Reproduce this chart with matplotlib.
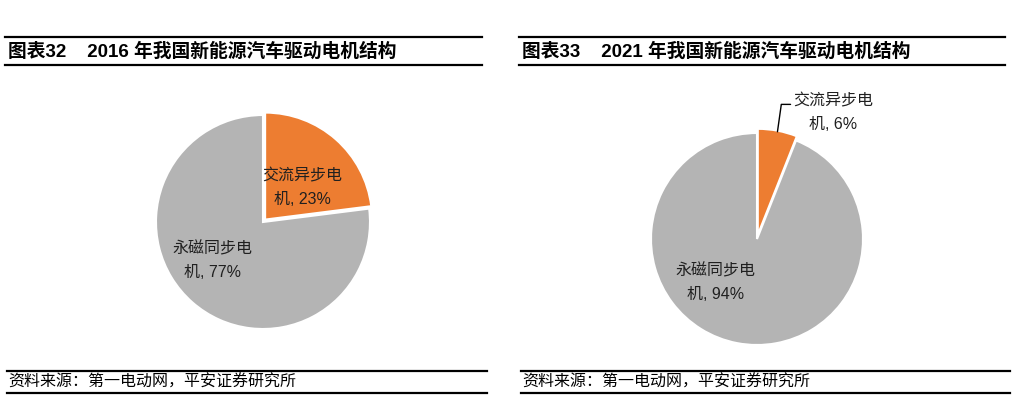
import numpy as np
import matplotlib
matplotlib.use("Agg")
import matplotlib.pyplot as plt
from matplotlib.lines import Line2D

plt.rcParams['font.family'] = ['Liberation Sans', 'Noto Sans CJK SC', 'DejaVu Sans']

labels = ['交流异步电\n机', '永磁同步电\n机']
share_2016 = [23, 77]
share_2021 = [6, 94]
colors = ['#ED7D31', '#B4B4B4']

titles = ['图表32    2016 年我国新能源汽车驱动电机结构',
          '图表33    2021 年我国新能源汽车驱动电机结构']
source = '资料来源：第一电动网，平安证券研究所'

W, H = 1025, 404
fig = plt.figure(figsize=(W / 100, H / 100), dpi=100)


def px_axes(cx, cy, r, span=1.3):
    side = 2 * span * r
    ax = fig.add_axes([(cx - side / 2) / W, (H - cy - side / 2) / H, side / W, side / H])
    return ax


def fix_limits(ax, span):
    ax.set_xlim(-span, span)
    ax.set_ylim(-span, span)
    ax.axis('off')


def hline(x0, x1, y, lw=1.6):
    fig.add_artist(Line2D([x0 / W, x1 / W], [1 - y / H, 1 - y / H], color='black', lw=lw))


# frame lines and titles
for x0, x1, title in [(5, 482, titles[0]), (519, 1005, titles[1])]:
    hline(x0, x1, 37)
    hline(x0, x1, 65)
    hline(x0 + 2, x1 + 5, 371)
    hline(x0 + 2, x1 + 5, 393)
    fig.text((x0 + 3) / W, 1 - 52 / H, title, fontsize=13.5, fontweight='bold', va='center', ha='left')
    fig.text((x0 + 3) / W, 1 - 382 / H, source, fontsize=11.5, va='center', ha='left')

# 2016 pie
ax1 = px_axes(263, 222, 107)
ax1.pie(share_2016, colors=colors, startangle=90, counterclock=False, explode=[0.03, 0],
        wedgeprops=dict(edgecolor='white', linewidth=1.5))
fix_limits(ax1, 1.3)
ax1.text(0.37, 0.32, f'{labels[0]}, {share_2016[0]}%', ha='center', va='center',
         fontsize=11.5, linespacing=1.7, color='#202020')
ax1.text(-0.47, -0.36, f'{labels[1]}, {share_2016[1]}%', ha='center', va='center',
         fontsize=11.5, linespacing=1.7, color='#202020')

# 2021 pie
ax2 = px_axes(757, 239, 106, span=1.45)
wedges, _ = ax2.pie(share_2021, colors=colors, startangle=90, counterclock=False, explode=[0.04, 0],
                    wedgeprops=dict(edgecolor='white', linewidth=1.5))
fix_limits(ax2, 1.45)
mid = np.deg2rad((wedges[0].theta1 + wedges[0].theta2) / 2)
ax2.annotate(f'{labels[0]}, {share_2021[0]}%', xy=(1.03 * np.cos(mid), 1.03 * np.sin(mid)),
             xytext=(0.72, 1.19), ha='center', va='center', fontsize=11.5, linespacing=1.7,
             color='#202020',
             arrowprops=dict(arrowstyle='-', color='black', lw=1, relpos=(0, 0.72),
                             shrinkA=0, shrinkB=0,
                             connectionstyle='angle,angleA=0,angleB=82,rad=0'))
ax2.text(-0.39, -0.41, f'{labels[1]}, {share_2021[1]}%', ha='center', va='center',
         fontsize=11.5, linespacing=1.7, color='#202020')

fig.savefig('out.png', dpi=100)
